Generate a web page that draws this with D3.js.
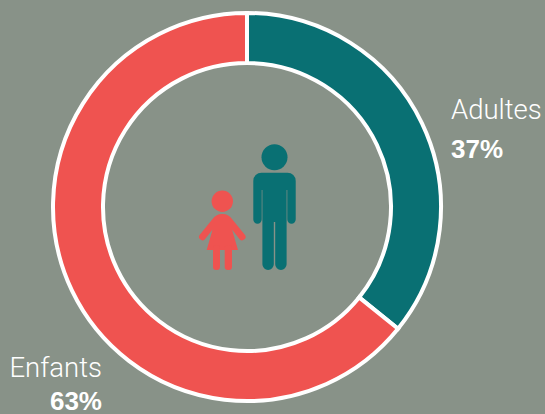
<!DOCTYPE html>
<html><head><meta charset="utf-8">
<script src="https://cdn.jsdelivr.net/npm/d3@7/dist/d3.min.js"></script>
<style>html,body{margin:0;padding:0;background:#889288;overflow:hidden}svg{display:block}</style>
</head><body><svg id="c" width="545" height="414"></svg>
<script>
const categories = ["Adultes", "Enfants"];
const values = [35.8, 64.2]; // slice sizes as drawn in the picture
const colors = ["#097073", "#ef5350"];
const labels = ["37%", "63%"];

const svg = d3.select("#c");
const cx = 247, cy = 207;
const g = svg.append("g").attr("transform", `translate(${cx},${cy})`);
const pie = d3.pie().sort(null)(values);
const arc = d3.arc().innerRadius(144).outerRadius(194);
g.selectAll("path").data(pie).join("path")
  .attr("d", arc)
  .attr("fill", (d, i) => colors[i])
  .attr("stroke", "#fff").attr("stroke-width", 4).attr("stroke-linejoin", "miter");

// Adult icon
const man = svg.append("g").attr("fill", colors[0]);
man.append("circle").attr("cx", 274.5).attr("cy", 157.3).attr("r", 13);
man.append("path").attr("d", "M261.5 172.7H287.5A8.2 8.2 0 0 1 295.7 180.9V219.5A4.2 4.2 0 0 1 287.3 219.5V190H286.6V264.3A5.7 5.7 0 0 1 275.2 264.3V222H273.8V264.3A5.7 5.7 0 0 1 262.4 264.3V190H261.7V219.5A4.2 4.2 0 0 1 253.3 219.5V180.9A8.2 8.2 0 0 1 261.5 172.7Z");

// Child icon
const girl = svg.append("g").attr("fill", colors[1]);
girl.append("circle").attr("cx", 222.3).attr("cy", 201.3).attr("r", 10.7);
girl.append("path").attr("d", "M222.3 214C227 214 230 216 232 219L244.6 234.5A3.4 3.4 0 0 1 239.6 239.2L232 229.5L238 250H206.7L212.6 229.5L205 239.2A3.4 3.4 0 0 1 200 234.5L212.6 219C214.6 216 217.6 214 222.3 214Z");
girl.append("rect").attr("x", 213).attr("y", 245).attr("width", 7).attr("height", 25).attr("rx", 3.2);
girl.append("rect").attr("x", 224.7).attr("y", 245).attr("width", 7.3).attr("height", 25).attr("rx", 3.2);

// Labels
const lab = [
  {x: 451, a: "start", y1: 119, y2: 158},
  {x: 102, a: "end", y1: 377, y2: 410}
];
lab.forEach((l, i) => {
  svg.append("text").attr("x", l.x).attr("y", l.y1).attr("text-anchor", l.a)
    .attr("font-family", "Roboto").attr("font-weight", 300).attr("font-size", 27.5).attr("fill", "#fff").text(categories[i]);
  svg.append("text").attr("x", l.x).attr("y", l.y2).attr("text-anchor", l.a)
    .attr("font-family", "Liberation Sans").attr("font-weight", 700).attr("font-size", 26).attr("fill", "#fff").text(labels[i]);
});
</script></body></html>
